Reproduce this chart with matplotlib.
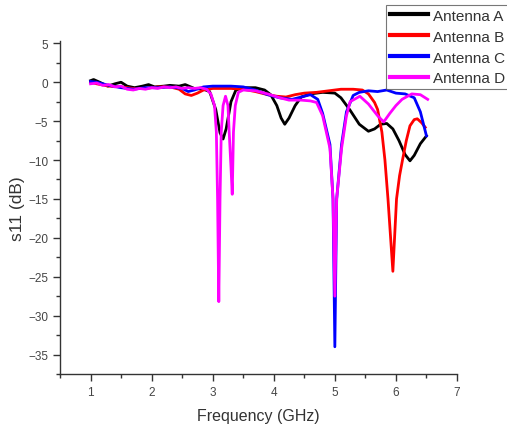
import matplotlib
matplotlib.use("Agg")
import matplotlib.pyplot as plt
from matplotlib.ticker import MultipleLocator

plt.rcParams["font.family"] = ["Liberation Sans", "DejaVu Sans"]

# Antenna A (black)
freq_a = [1.00, 1.05, 1.15, 1.28, 1.40, 1.50, 1.60, 1.72, 1.85, 1.95, 2.05, 2.20,
          2.30, 2.45, 2.55, 2.70, 2.85, 2.95, 3.05, 3.12, 3.17, 3.22, 3.30, 3.38,
          3.50, 3.70, 3.85, 3.95, 4.05, 4.12, 4.18, 4.25, 4.35, 4.45, 4.60, 4.80,
          5.00, 5.10, 5.25, 5.40, 5.55, 5.65, 5.75, 5.85, 5.95, 6.05, 6.15, 6.23,
          6.30, 6.40, 6.50]
s11_a = [0.2, 0.35, 0.0, -0.5, -0.2, 0.0, -0.5, -0.7, -0.5, -0.3, -0.6, -0.5,
         -0.4, -0.5, -0.3, -0.8, -0.9, -1.2, -3.5, -6.5, -7.3, -6.0, -2.5, -1.0,
         -0.7, -0.7, -1.0, -1.6, -3.0, -4.6, -5.4, -4.6, -3.0, -1.9, -1.5, -1.3,
         -1.4, -2.0, -3.6, -5.4, -6.3, -6.0, -5.4, -5.3, -6.0, -7.5, -9.3, -10.1,
         -9.4, -7.9, -6.9]

# Antenna B (red)
freq_b = [1.00, 1.10, 1.30, 1.50, 1.70, 1.90, 2.10, 2.30, 2.45, 2.55, 2.65, 2.75,
          2.85, 3.00, 3.30, 3.50, 3.70, 3.90, 4.05, 4.20, 4.35, 4.50, 4.70, 4.90,
          5.10, 5.30, 5.45, 5.55, 5.65, 5.70, 5.77, 5.82, 5.87, 5.95, 6.01, 6.06,
          6.11, 6.17, 6.23, 6.30, 6.35, 6.42, 6.48]
s11_b = [0.0, -0.2, -0.5, -0.6, -0.8, -0.8, -0.6, -0.6, -0.9, -1.5, -1.7, -1.4,
         -1.0, -0.8, -0.8, -0.9, -1.2, -1.6, -1.8, -1.9, -1.6, -1.4, -1.3, -1.1,
         -0.9, -0.9, -1.0, -1.5, -2.6, -3.5, -6.4, -10.0, -15.0, -24.3, -15.0, -12.0,
         -9.9, -7.5, -5.6, -4.8, -4.7, -5.2, -5.8]

# Antenna C (blue)
freq_c = [1.00, 1.10, 1.30, 1.50, 1.70, 1.90, 2.10, 2.30, 2.50, 2.60, 2.70, 2.85,
          3.00, 3.30, 3.50, 3.70, 3.90, 4.10, 4.30, 4.45, 4.60, 4.72, 4.80, 4.92,
          4.97, 5.00, 5.03, 5.11, 5.19, 5.30, 5.40, 5.55, 5.70, 5.85, 6.00, 6.15,
          6.30, 6.40, 6.50]
s11_c = [0.1, 0.0, -0.4, -0.7, -0.9, -0.7, -0.7, -0.6, -0.8, -1.2, -1.0, -0.6,
         -0.5, -0.5, -0.6, -1.0, -1.6, -2.0, -2.2, -1.9, -1.6, -2.2, -4.0, -8.0,
         -15.0, -34.0, -15.0, -8.0, -3.8, -1.7, -1.3, -1.1, -1.2, -1.0, -1.4, -1.5,
         -2.0, -3.8, -6.9]

# Antenna D (magenta)
freq_d = [1.00, 1.10, 1.20, 1.30, 1.40, 1.50, 1.60, 1.70, 1.80, 1.90, 2.00, 2.10,
          2.20, 2.30, 2.40, 2.50, 2.60, 2.70, 2.80, 2.90, 2.97, 3.03, 3.06, 3.08,
          3.10, 3.12, 3.14, 3.17, 3.21, 3.25, 3.27, 3.30, 3.32, 3.34, 3.37, 3.42,
          3.50, 3.70, 3.90, 4.10, 4.25, 4.45, 4.60, 4.70, 4.80, 4.92, 4.97, 5.00,
          5.03, 5.11, 5.19, 5.25, 5.41, 5.55, 5.70, 5.80, 5.90, 6.00, 6.10, 6.26,
          6.40, 6.52]
s11_d = [-0.2, -0.1, -0.4, -0.3, -0.6, -0.5, -0.9, -1.0, -0.8, -0.9, -0.7, -0.8,
         -0.6, -0.7, -0.6, -0.8, -0.7, -0.8, -0.7, -0.9, -1.5, -3.0, -6.4, -15.0,
         -28.2, -15.0, -6.4, -3.0, -1.8, -3.0, -6.4, -11.0, -14.4, -6.4, -3.0, -1.3,
         -1.0, -1.1, -1.5, -2.0, -2.3, -2.3, -2.4, -2.6, -4.3, -8.5, -15.0, -27.5,
         -15.0, -8.5, -4.3, -2.5, -1.8, -2.8, -4.3, -5.1, -4.0, -3.0, -2.2, -1.5,
         -1.6, -2.2]

series = [
    ("Antenna A", freq_a, s11_a, "black"),
    ("Antenna B", freq_b, s11_b, "red"),
    ("Antenna C", freq_c, s11_c, "blue"),
    ("Antenna D", freq_d, s11_d, "magenta"),
]

W, H = 507, 427
fig = plt.figure(figsize=(W / 100, H / 100), dpi=100)
ax = fig.add_axes([60 / W, (H - 375) / H, (457 - 60) / W, (375 - 42) / H])

for name, f, s, col in series:
    ax.plot(f, s, color=col, lw=2.0, label=name)

ax.set_xlim(0.5, 7)
ax.set_ylim(-37.5, 5.3)
ax.xaxis.set_major_locator(MultipleLocator(1))
ax.xaxis.set_minor_locator(MultipleLocator(0.5))
ax.yaxis.set_major_locator(MultipleLocator(5))
ax.yaxis.set_minor_locator(MultipleLocator(2.5))

for side in ("top", "right"):
    ax.spines[side].set_visible(False)
for side in ("left", "bottom"):
    ax.spines[side].set_color("#333333")
    ax.spines[side].set_linewidth(1.0)

ax.tick_params(which="major", direction="out", length=5, width=1.0,
               color="#333333", labelsize=8.5, labelcolor="#444444")
ax.tick_params(which="minor", direction="out", length=3, width=1.0, color="#333333")

ax.set_xlabel("Frequency (GHz)", fontsize=11.5, color="#333333", labelpad=7)
ax.set_ylabel("s11 (dB)", fontsize=12.5, color="#333333", labelpad=2)

leg = fig.legend(loc="upper left", bbox_to_anchor=(386 / W, 1 - 6 / H),
                 frameon=True, fancybox=False, fontsize=11,
                 handlelength=2.5, handletextpad=0.35, borderpad=0.25,
                 labelspacing=0.45, borderaxespad=0)
leg.get_frame().set_edgecolor("#555555")
leg.get_frame().set_linewidth(0.8)
for line in leg.get_lines():
    line.set_linewidth(3.0)
for t in leg.get_texts():
    t.set_color("#333333")

fig.savefig("out.png", dpi=100, facecolor="white")
